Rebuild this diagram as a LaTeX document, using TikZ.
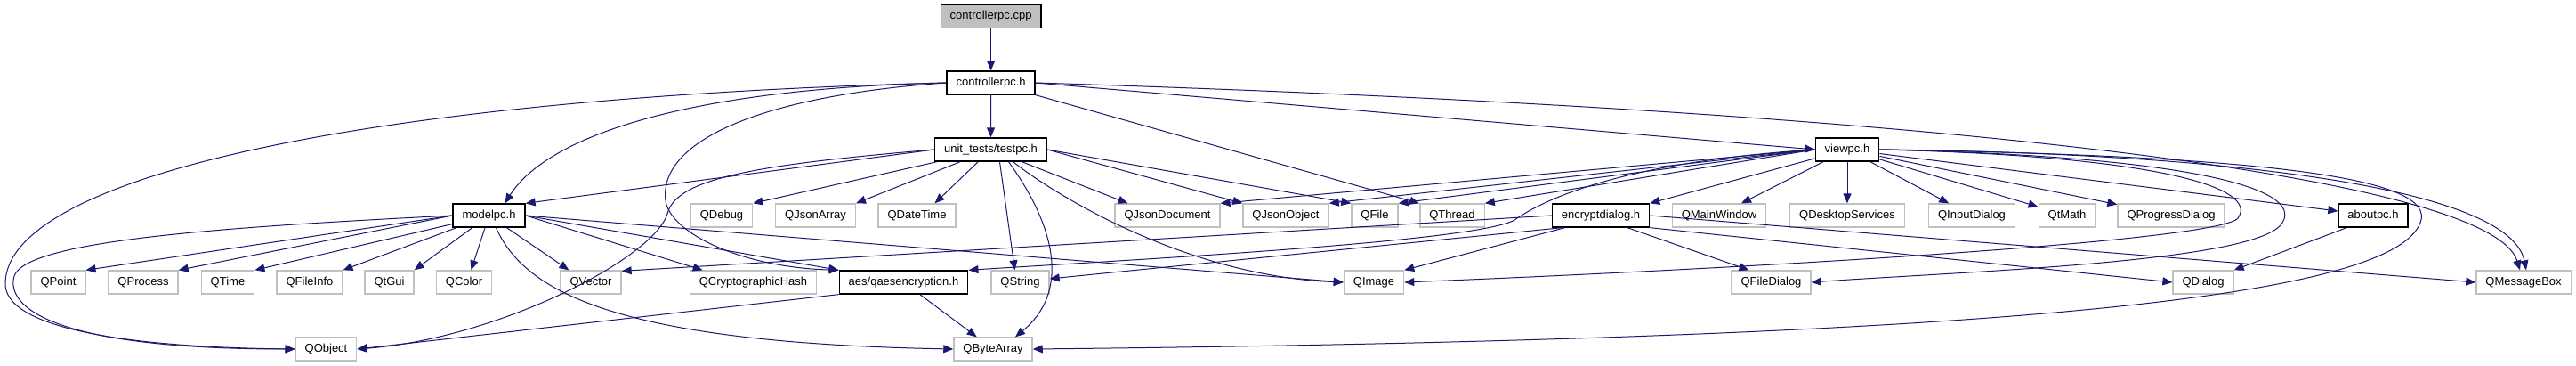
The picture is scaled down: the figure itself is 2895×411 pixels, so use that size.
\documentclass[tikz,border=0pt]{standalone}
\usepackage{fontspec}
\setmainfont{Liberation Sans}
\usetikzlibrary{arrows.meta}
\definecolor{depblue}{HTML}{191970}
\definecolor{extgray}{HTML}{BFBFBF}
\tikzset{
  hdr/.style={draw=black, line width=1.3pt, fill=white, minimum height=26pt,
    inner xsep=10.5pt, inner ysep=0pt, font=\fontsize{13}{15}\selectfont},
  qthdr/.style={hdr, draw=extgray},
  srcfile/.style={hdr, fill=extgray},
  dep/.style={->, draw=depblue, line width=1pt},
}
\begin{document}
\begin{tikzpicture}[x=1pt, y=-1pt, >={Triangle[length=11pt,width=9pt]}]
			\useasboundingbox (0,0) rectangle (2895,411); % same size as the include graph
			% own headers
			\node[srcfile] (ctrlcpp) at (1113.6,18.5) {controllerpc.cpp};
			\node[hdr] (ctrlh) at (1113.6,93) {controllerpc.h};
			\node[hdr] (testpc) at (1113.5,168) {unit\_tests/testpc.h};
			\node[hdr] (viewpc) at (2076,168) {viewpc.h};
			\node[hdr] (model) at (549.5,242) {modelpc.h};
			\node[hdr] (encdlg) at (1799,242) {encryptdialog.h};
			\node[hdr] (aboutpc) at (2667,242) {aboutpc.h};
			\node[hdr] (aes) at (1015.5,317) {aes/qaesencryption.h};
			% Qt headers, row 3
			\node[qthdr] (qdebug) at (811,242) {QDebug};
			\node[qthdr] (qjsonarr) at (916.5,242) {QJsonArray};
			\node[qthdr] (qdatetime) at (1030.5,242) {QDateTime};
			\node[qthdr] (qjsondoc) at (1312,242) {QJsonDocument};
			\node[qthdr] (qjsonobj) at (1445,242) {QJsonObject};
			\node[qthdr] (qfile) at (1545,242) {QFile};
			\node[qthdr] (qthread) at (1632,242) {QThread};
			\node[qthdr] (qmainwin) at (1932,242) {QMainWindow};
			\node[qthdr] (qdesktop) at (2076,242) {QDesktopServices};
			\node[qthdr] (qinputdlg) at (2216,242) {QInputDialog};
			\node[qthdr] (qtmath) at (2323,242) {QtMath};
			\node[qthdr] (qprogress) at (2440,242) {QProgressDialog};
			% Qt headers, row 4
			\node[qthdr] (qpoint) at (65.5,317) {QPoint};
			\node[qthdr] (qprocess) at (161,317) {QProcess};
			\node[qthdr] (qtime) at (256,317) {QTime};
			\node[qthdr] (qfileinfo) at (348,317) {QFileInfo};
			\node[qthdr] (qtgui) at (437.5,317) {QtGui};
			\node[qthdr] (qcolor) at (521.5,317) {QColor};
			\node[qthdr] (qvector) at (664,317) {QVector};
			\node[qthdr] (qcrypto) at (846.5,317) {QCryptographicHash};
			\node[qthdr] (qstring) at (1146.5,317) {QString};
			\node[qthdr] (qimage) at (1544,317) {QImage};
			\node[qthdr] (qfiledlg) at (1990.5,317) {QFileDialog};
			\node[qthdr] (qdialog) at (2476,317) {QDialog};
			\node[qthdr] (qmsgbox) at (2836,317) {QMessageBox};
			% Qt headers, row 5
			\node[qthdr] (qobject) at (366.5,392) {QObject};
			\node[qthdr] (qbytearr) at (1116,392) {QByteArray};
			% controllerpc.cpp and controllerpc.h
			\draw[dep] (ctrlcpp) -- (ctrlh);
			\draw[dep] (ctrlh) -- (testpc);
			\draw[dep] (ctrlh.east) -- (viewpc.west);
			\draw[dep] (ctrlh.south east) -- (qthread.north west);
			\draw[dep] (ctrlh.east) .. controls (2200,125) and (2800,200) .. ([xshift=-4pt]qmsgbox.north);
			\draw[dep] (ctrlh.west) .. controls (400,110) and (10,200) .. (6,317) .. controls (3,370) and (150,390) .. (qobject.west);
			\draw[dep] (ctrlh.west) .. controls (750,100) and (610,160) .. ([xshift=18pt]model.north);
			\draw[dep] (ctrlh.west) .. controls (850,108) and (740,160) .. (748,225) .. controls (752,260) and (830,300) .. (aes.north west);
			% unit_tests/testpc.h
			\draw[dep] (testpc.west) -- (model.north east);
			\draw[dep] (testpc.west) .. controls (850,185) and (760,200) .. (750,240) .. controls (735,290) and (560,380) .. (qobject.east);
			\draw[dep] (testpc) -- (qdebug.north east);
			\draw[dep] (testpc) -- (qjsonarr.north east);
			\draw[dep] (testpc) -- ([xshift=20pt]qdatetime.north);
			\draw[dep] (testpc) -- ([xshift=15pt]qjsondoc.north west);
			\draw[dep] (testpc.east) -- (qjsonobj.north west);
			\draw[dep] (testpc.east) -- (qfile.north west);
			\draw[dep] ([xshift=10pt]testpc.south) -- ([xshift=-6pt]qstring.north);
			\draw[dep] ([xshift=20pt]testpc.south) .. controls (1190,260) and (1200,330) .. ([xshift=25pt]qbytearr.north);
			\draw[dep] ([xshift=25pt]testpc.south) .. controls (1180,215) and (1330,310) .. (qimage.west);
			% modelpc.h
			\draw[dep] (model.west) .. controls (250,255) and (30,270) .. (16,310) .. controls (6,345) and (60,392) .. (qobject.west);
			\draw[dep] (model.west) -- (qpoint.north east);
			\draw[dep] (model.west) -- (qprocess.north east);
			\draw[dep] (model) -- (qtime.north east);
			\draw[dep] (model) -- (qfileinfo.north east);
			\draw[dep] (model) -- (qtgui.north east);
			\draw[dep] (model) -- ([xshift=8pt]qcolor.north);
			\draw[dep] (model) -- ([xshift=10pt]qvector.north west);
			\draw[dep] (model.east) -- ([xshift=15pt]qcrypto.north west);
			\draw[dep] (model.east) -- (aes.north west);
			\draw[dep] (model.east) -- (qimage.west);
			\draw[dep] ([xshift=8pt]model.south) .. controls (590,330) and (700,385) .. (qbytearr.west);
			% aes/qaesencryption.h
			\draw[dep] (aes.south west) -- (qobject.east);
			\draw[dep] (aes) -- (qbytearr);
			% viewpc.h
			\draw[dep] (viewpc.west) -- (qjsondoc.north east);
			\draw[dep] (viewpc.west) -- (qjsonobj.north east);
			\draw[dep] (viewpc.west) -- (qfile.north east);
			\draw[dep] (viewpc.west) -- (qthread.north east);
			\draw[dep] (viewpc) -- (encdlg.north east);
			\draw[dep] (viewpc) -- ([xshift=25pt]qmainwin.north);
			\draw[dep] (viewpc) -- (qdesktop);
			\draw[dep] (viewpc) -- (qinputdlg);
			\draw[dep] (viewpc) -- (qtmath);
			\draw[dep] (viewpc) -- (qprogress);
			\draw[dep] (viewpc) -- (aboutpc);
			\draw[dep] (viewpc.east) .. controls (2500,172) and (2820,210) .. ([xshift=3pt]qmsgbox.north);
			\draw[dep] (viewpc.east) .. controls (2420,175) and (2540,210) .. (2515,245) .. controls (2495,270) and (2000,300) .. (qimage.east);
			\draw[dep] (viewpc.east) .. controls (2450,175) and (2590,210) .. (2565,250) .. controls (2540,295) and (2200,305) .. (qfiledlg.east);
			\draw[dep] (viewpc.east) .. controls (2550,175) and (2740,200) .. (2720,250) .. controls (2690,330) and (2300,380) .. (qbytearr.east);
			\draw[dep] (viewpc.west) .. controls (1850,180) and (1750,215) .. (1705,245) .. controls (1680,270) and (1300,290) .. (aes.north east);
			% encryptdialog.h and aboutpc.h
			\draw[dep] (encdlg.west) -- (qvector.20);
			\draw[dep] ([xshift=12pt]encdlg.south west) -- ([yshift=4pt]qstring.east);
			\draw[dep] ([xshift=15pt]encdlg.south west) -- (qimage.north east);
			\draw[dep] ([xshift=30pt]encdlg.south) -- ([xshift=-25pt]qfiledlg.north);
			\draw[dep] (encdlg.south east) -- (qdialog.west);
			\draw[dep] (encdlg.east) -- (qmsgbox.west);
			\draw[dep] ([xshift=10pt]aboutpc.south west) -- (qdialog.north east);
		\end{tikzpicture}
\end{document}
